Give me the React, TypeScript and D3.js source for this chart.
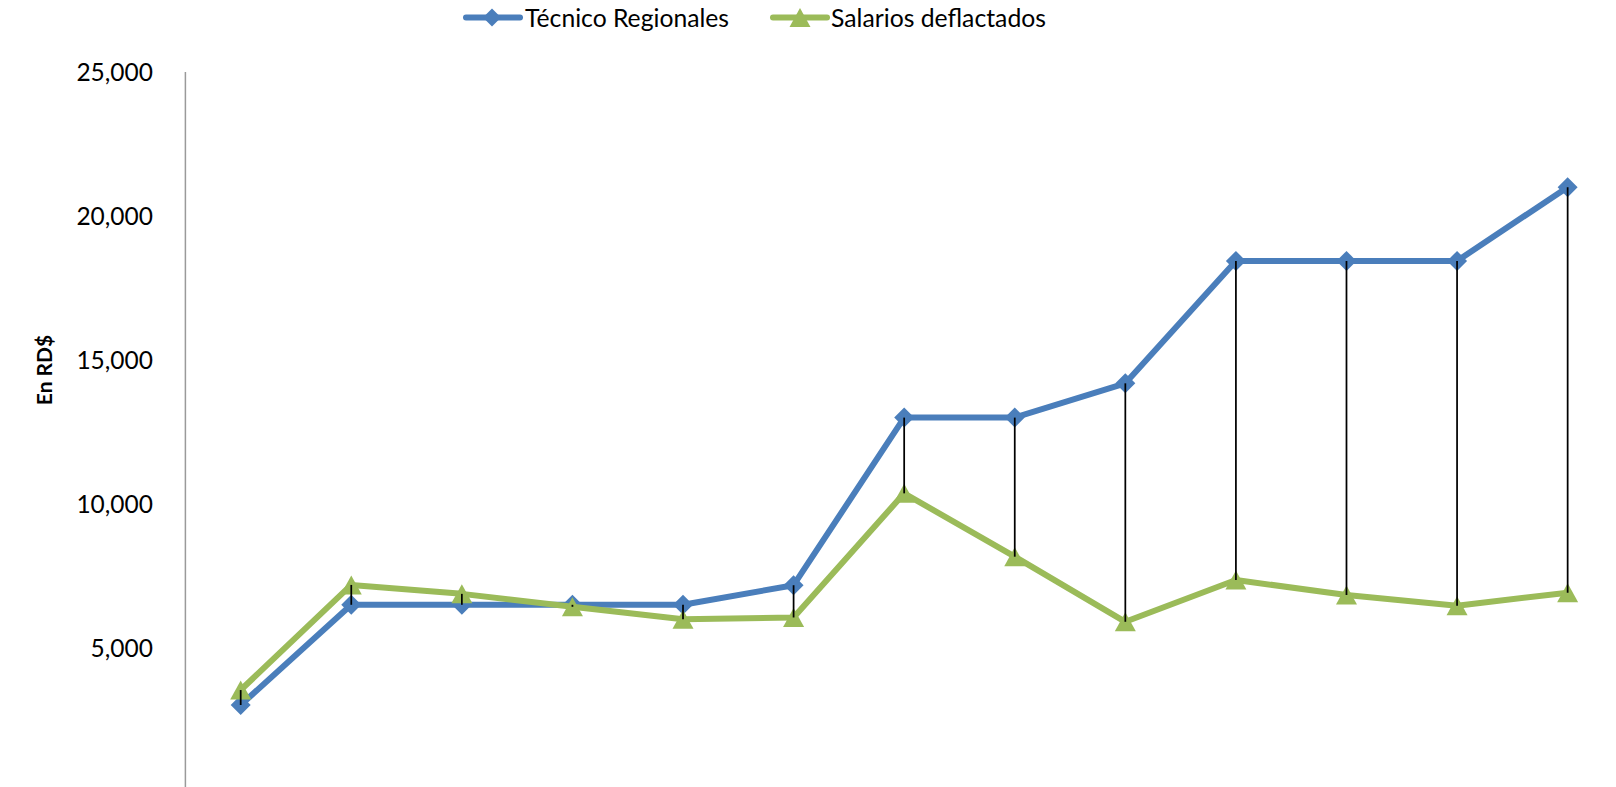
import React from "react";
import * as d3 from "d3";

const categories = ["1", "2", "3", "4", "5", "6", "7", "8", "9", "10", "11", "12", "13"];
const tecnicoRegionales = [3020, 6500, 6500, 6500, 6500, 7180, 13000, 13000, 14190, 18440, 18440, 18440, 21000];
const salariosDeflactados = [3540, 7190, 6880, 6430, 6000, 6060, 10370, 8170, 5910, 7360, 6840, 6470, 6920];
const yTicks = [5000, 10000, 15000, 20000, 25000];
const seriesNames = ["Técnico Regionales", "Salarios deflactados"];

const W = 1616;
const H = 787;
const BLUE = "#4A7EBB";
const GREEN = "#9BBB59";
const FONT = "Lato, 'Open Sans', sans-serif";

export default function App() {
  const x = d3.scaleBand<string>().domain(categories).range([185.4, 185.4 + 13 * 110.58]);
  const cx = (c: string) => (x(c) as number) + x.bandwidth() / 2;
  const y = d3.scaleLinear().domain([0, 25000]).range([792, 72]);
  const fmt = d3.format(",");

  const line = d3
    .line<number>()
    .x((_, i) => cx(categories[i]))
    .y((d) => y(d));

  const diamond = (px: number, py: number, r: number) =>
    `M${px},${py - r}L${px + r},${py}L${px},${py + r}L${px - r},${py}Z`;
  const triangle = (px: number, py: number, w: number, h: number) =>
    `M${px},${py - h / 2}L${px + w / 2},${py + h / 2}L${px - w / 2},${py + h / 2}Z`;

  return (
    <svg
      width={W}
      height={H}
      style={{ position: "absolute", left: 0, top: 0, background: "#fff" }}
      fontFamily={FONT}
    >
      <rect x={0} y={0} width={W} height={H} fill="#fff" />
      {/* Y axis */}
      <line x1={185.4} x2={185.4} y1={y(25000)} y2={y(0)} stroke="#9a9a9a" strokeWidth={1.5} />
      {yTicks.map((t) => (
        <text key={t} x={153} y={y(t) + 8.5} textAnchor="end" fontSize={24.5} fill="#000">
          {fmt(t)}
        </text>
      ))}
      <text
        transform={`translate(${51.5},${370}) rotate(-90)`}
        textAnchor="middle"
        fontSize={21}
        fontWeight="bold"
        fill="#000"
      >
        En RD$
      </text>

      {/* Series 1 */}
      <path d={line(tecnicoRegionales) || ""} fill="none" stroke={BLUE} strokeWidth={6} strokeLinejoin="round" />
      {tecnicoRegionales.map((v, i) => (
        <path key={"b" + i} d={diamond(cx(categories[i]), y(v), 10)} fill={BLUE} />
      ))}
      {/* Series 2 */}
      <path d={line(salariosDeflactados) || ""} fill="none" stroke={GREEN} strokeWidth={6} strokeLinejoin="round" />
      {salariosDeflactados.map((v, i) => (
        <path key={"g" + i} d={triangle(cx(categories[i]), y(v), 21, 19)} fill={GREEN} />
      ))}
      {/* High-low lines */}
      {categories.map((c, i) => (
        <line
          key={"hl" + i}
          x1={cx(c)}
          x2={cx(c)}
          y1={y(tecnicoRegionales[i])}
          y2={y(salariosDeflactados[i])}
          stroke="#000"
          strokeWidth={1.75}
        />
      ))}

      {/* Legend */}
      <line x1={466} x2={520} y1={17.5} y2={17.5} stroke={BLUE} strokeWidth={6} strokeLinecap="round" />
      <path d={diamond(492, 17.5, 9)} fill={BLUE} />
      <text x={525} y={26.5} fontSize={24.5} textLength={204} lengthAdjust="spacingAndGlyphs" fill="#000">
        {seriesNames[0]}
      </text>
      <line x1={773} x2={827} y1={17.5} y2={17.5} stroke={GREEN} strokeWidth={6} strokeLinecap="round" />
      <path d={triangle(800, 17.5, 21, 19)} fill={GREEN} />
      <text x={831} y={26.5} fontSize={24.5} textLength={215} lengthAdjust="spacingAndGlyphs" fill="#000">
        {seriesNames[1]}
      </text>
    </svg>
  );
}
